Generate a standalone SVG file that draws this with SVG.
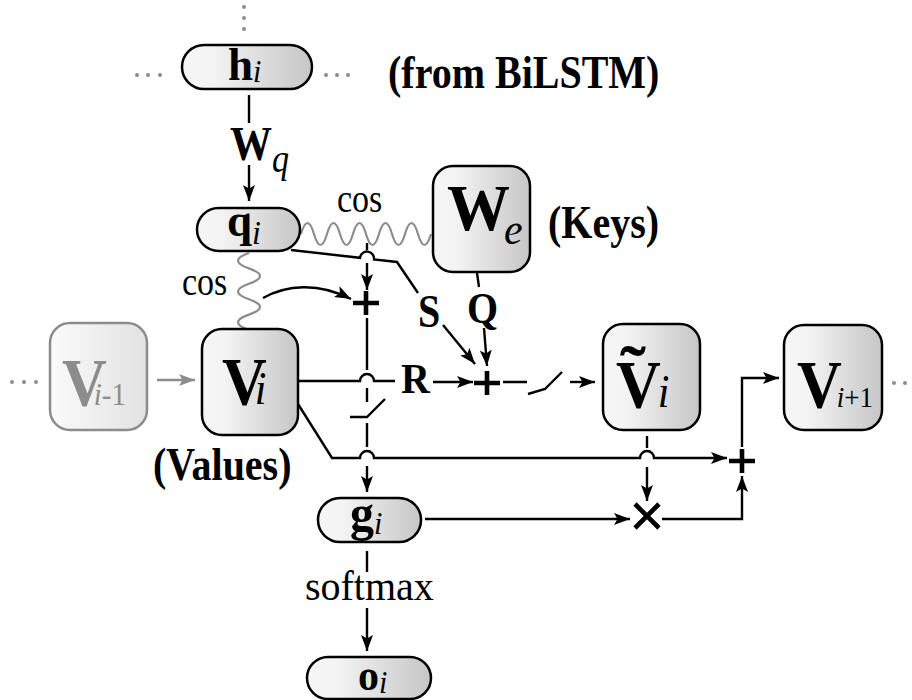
<svg xmlns="http://www.w3.org/2000/svg" width="912" height="700" viewBox="0 0 912 700">
<defs>
<linearGradient id="gr" x1="0" y1="0" x2="1" y2="0">
<stop offset="0" stop-color="#f6f6f6"/>
<stop offset="0.25" stop-color="#f3f3f3"/>
<stop offset="1" stop-color="#c6c6c6"/>
</linearGradient>
<linearGradient id="grl" x1="0" y1="0" x2="1" y2="0">
<stop offset="0" stop-color="#fafafa"/>
<stop offset="1" stop-color="#e2e2e2"/>
</linearGradient>
<marker id="ah" markerUnits="userSpaceOnUse" markerWidth="17" markerHeight="12" refX="16" refY="6" orient="auto">
<path d="M0,0 L16,6 L0,12 L3.5,6 z" fill="#000"/>
</marker>
<marker id="ahg" markerUnits="userSpaceOnUse" markerWidth="17" markerHeight="12" refX="16" refY="6" orient="auto">
<path d="M0,0 L16,6 L0,12 L3.5,6 z" fill="#8c8c8c"/>
</marker>
</defs>
<style>
.box{fill:url(#gr);stroke:#000;stroke-width:2.5}
.ghost{fill:url(#grl);stroke:#8c8c8c;stroke-width:2.5}
.c{fill:none;stroke:#000;stroke-width:2.4}
.a{marker-end:url(#ah)}
.w{fill:none;stroke:#8c8c8c;stroke-width:2.2}
.op{fill:none;stroke:#000;stroke-width:4.6}
.dot{fill:#8c8c8c}
text{font-family:"Liberation Serif","Times New Roman",serif;fill:#000}
.b{font-weight:bold}
.i{font-style:italic;font-weight:normal}
.g{fill:#8c8c8c}
</style>

<!-- decorative dots -->
<g id="dots">
<circle class="dot" cx="244" cy="7" r="2"/><circle class="dot" cx="244" cy="18" r="2"/><circle class="dot" cx="244" cy="29" r="2"/>
<circle class="dot" cx="137" cy="75" r="2"/><circle class="dot" cx="148" cy="75" r="2"/><circle class="dot" cx="160" cy="75" r="2"/>
<circle class="dot" cx="326" cy="75" r="2"/><circle class="dot" cx="337" cy="75" r="2"/><circle class="dot" cx="348" cy="75" r="2"/>
<circle class="dot" cx="12" cy="382" r="2"/><circle class="dot" cx="24" cy="382" r="2"/><circle class="dot" cx="36" cy="382" r="2"/>
<circle class="dot" cx="894" cy="383" r="2"/><circle class="dot" cx="905" cy="383" r="2"/>
</g>

<g id="connectors">
<!-- h -> q -->
<path class="c" d="M249,95 V123"/>
<path class="c a" d="M249,165 V201"/>
<!-- cos waves -->
<path class="w" d="M301,234 q6.5,-22 13,0 t13,0 t13,0 t13,0 t13,0 t13,0 t13,0 t13,0 t13,0 t13,0"/>
<path class="w" d="M249,253 q-22,7.7 0,15.4 t0,15.4 t0,15.4 t0,15.4 t0,15.4"/>
<!-- q -> S -> + -->
<path class="c" d="M291,250 L360,257.8 A7,7 0 0 1 374,259.4 L397,262 L418,293"/>
<path class="c a" d="M443,325 L475,364"/>
<!-- wave -> top plus -->
<path class="c" d="M367,243 V250"/>
<path class="c a" d="M367,263 V290"/>
<!-- cos curve -->
<path class="c a" d="M263,298 C286,285 318,282 351,299"/>
<!-- middle vertical with switch -->
<path class="c" d="M367,318 V370 M367,388 V402 M350,417 H367 L385,399 M367,423 V447"/>
<path class="c a" d="M367,466 V492"/>
<!-- V -> R -> + -->
<path class="c" d="M298,381 H360 A7,7 0 0 1 374,381 H395"/>
<path class="c a" d="M433,382 H473"/>
<!-- We -> Q -> + -->
<path class="c" d="M477,273 L479,287"/>
<path class="c a" d="M484,328 L487,366"/>
<!-- + -> switch -> V~ -->
<path class="c" d="M503,382 H527 M528,394 L545,389 L562,372"/>
<path class="c a" d="M570,382 H595"/>
<!-- V -> bottom line -> right plus -->
<path class="c a" d="M298,404 L332,458 H360 A7,7 0 0 1 374,458 H640 A7,7 0 0 1 654,458 H727"/>
<!-- V~ -> x -->
<path class="c" d="M647,436 V448"/>
<path class="c a" d="M647,467 V501"/>
<!-- g -> x -->
<path class="c a" d="M425,519 H630"/>
<!-- x -> right plus -->
<path class="c a" d="M662,519 H742 V476"/>
<!-- right plus -> V i+1 -->
<path class="c a" d="M742,447 V378 H779"/>
<!-- g -> o -->
<path class="c" d="M367,551 V572"/>
<path class="c a" d="M367,608 V651"/>
<!-- V i-1 -> V i -->
<path fill="none" stroke="#8c8c8c" stroke-width="2.4" marker-end="url(#ahg)" d="M157,380 H195"/>
<!-- operators -->
<path class="op" d="M353,303 H379 M366,291 V315"/>
<path class="op" d="M474,383 H500 M487,371 V395"/>
<path class="op" d="M729,461 H755 M742,449 V473"/>
<path class="op" d="M635,504 L659,528 M635,528 L659,504"/>
</g>

<!-- connector labels -->
<g id="labels">
<text class="b" transform="translate(230,160) scale(1,1.18)" font-size="42">W<tspan class="i" font-size="34" dy="10">q</tspan></text>
<text transform="translate(337,212) scale(1,1.2)" font-size="34">cos</text>
<text transform="translate(182,295) scale(1,1.2)" font-size="34">cos</text>
<text class="b" transform="translate(418,327) scale(1,1.18)" font-size="40">S</text>
<text class="b" transform="translate(467,323) scale(1,1.12)" font-size="40">Q</text>
<text class="b" transform="translate(401,393) scale(1,1.08)" font-size="40">R</text>
<text transform="translate(305,600) scale(1,1.05)" font-size="40">softmax</text>
<text class="b" transform="translate(388,88) scale(1,1.18)" font-size="40">(from BiLSTM)</text>
<text class="b" transform="translate(548,238) scale(1,1.18)" font-size="40">(Keys)</text>
<text class="b" transform="translate(153,480) scale(1,1.18)" font-size="40">(Values)</text>
</g>

<g id="node-h">
<rect class="box" x="182" y="45" width="130" height="44" rx="22"/>
<text class="b" transform="translate(228,80) scale(1,1.05)" font-size="45">h<tspan class="i" font-size="30" dy="2">i</tspan></text>
</g>
<g id="node-q">
<rect class="box" x="197" y="208" width="103" height="43" rx="21.5"/>
<text class="b" transform="translate(227,236) scale(1,1.05)" font-size="45">q<tspan class="i" font-size="32" dy="8">i</tspan></text>
</g>
<g id="node-We">
<rect class="box" x="433" y="166" width="97" height="106" rx="20"/>
<text class="b" transform="translate(447,230) scale(1,1.04)" font-size="63">W<tspan class="i" font-size="42" dx="-6" dy="13">e</tspan></text>
</g>
<g id="node-Vim1">
<rect class="ghost" x="50" y="323" width="97" height="107" rx="20"/>
<text class="b g" transform="translate(62,405) scale(1,1.08)" font-size="62">V<tspan class="i g" font-size="29" dx="-13">i</tspan><tspan class="g" font-weight="normal" font-size="29">-1</tspan></text>
</g>
<g id="node-Vi">
<rect class="box" x="202" y="329" width="96" height="106" rx="20"/>
<text class="b" transform="translate(222,404) scale(1,1.08)" font-size="62">V<tspan class="i" font-size="42" dx="-12">i</tspan></text>
</g>
<g id="node-Vt">
<rect class="box" x="603" y="324" width="97" height="106" rx="20"/>
<text class="b" transform="translate(616,407) scale(1,1.08)" font-size="62">V<tspan class="i" font-size="42" dx="-3">i</tspan></text>
<text class="b" transform="translate(620,393) scale(1.25,1.1)" font-size="62">˜</text>
</g>
<g id="node-Vip1">
<rect class="box" x="784" y="325" width="98" height="105" rx="20"/>
<text class="b" transform="translate(797,407) scale(1,1.08)" font-size="62">V<tspan class="i" font-size="27" dx="-5">i</tspan><tspan font-weight="normal" font-size="27">+1</tspan></text>
</g>
<g id="node-g">
<rect class="box" x="318" y="498" width="103" height="44" rx="22"/>
<text class="b" transform="translate(350,530) scale(1,1.05)" font-size="48">g<tspan class="i" font-size="30" dy="4">i</tspan></text>
</g>
<g id="node-o">
<rect class="box" x="307" y="657" width="124" height="42" rx="21"/>
<text class="b" transform="translate(358,690) scale(1,1.05)" font-size="42">o<tspan class="i" font-size="30" dy="3">i</tspan></text>
</g>
</svg>
